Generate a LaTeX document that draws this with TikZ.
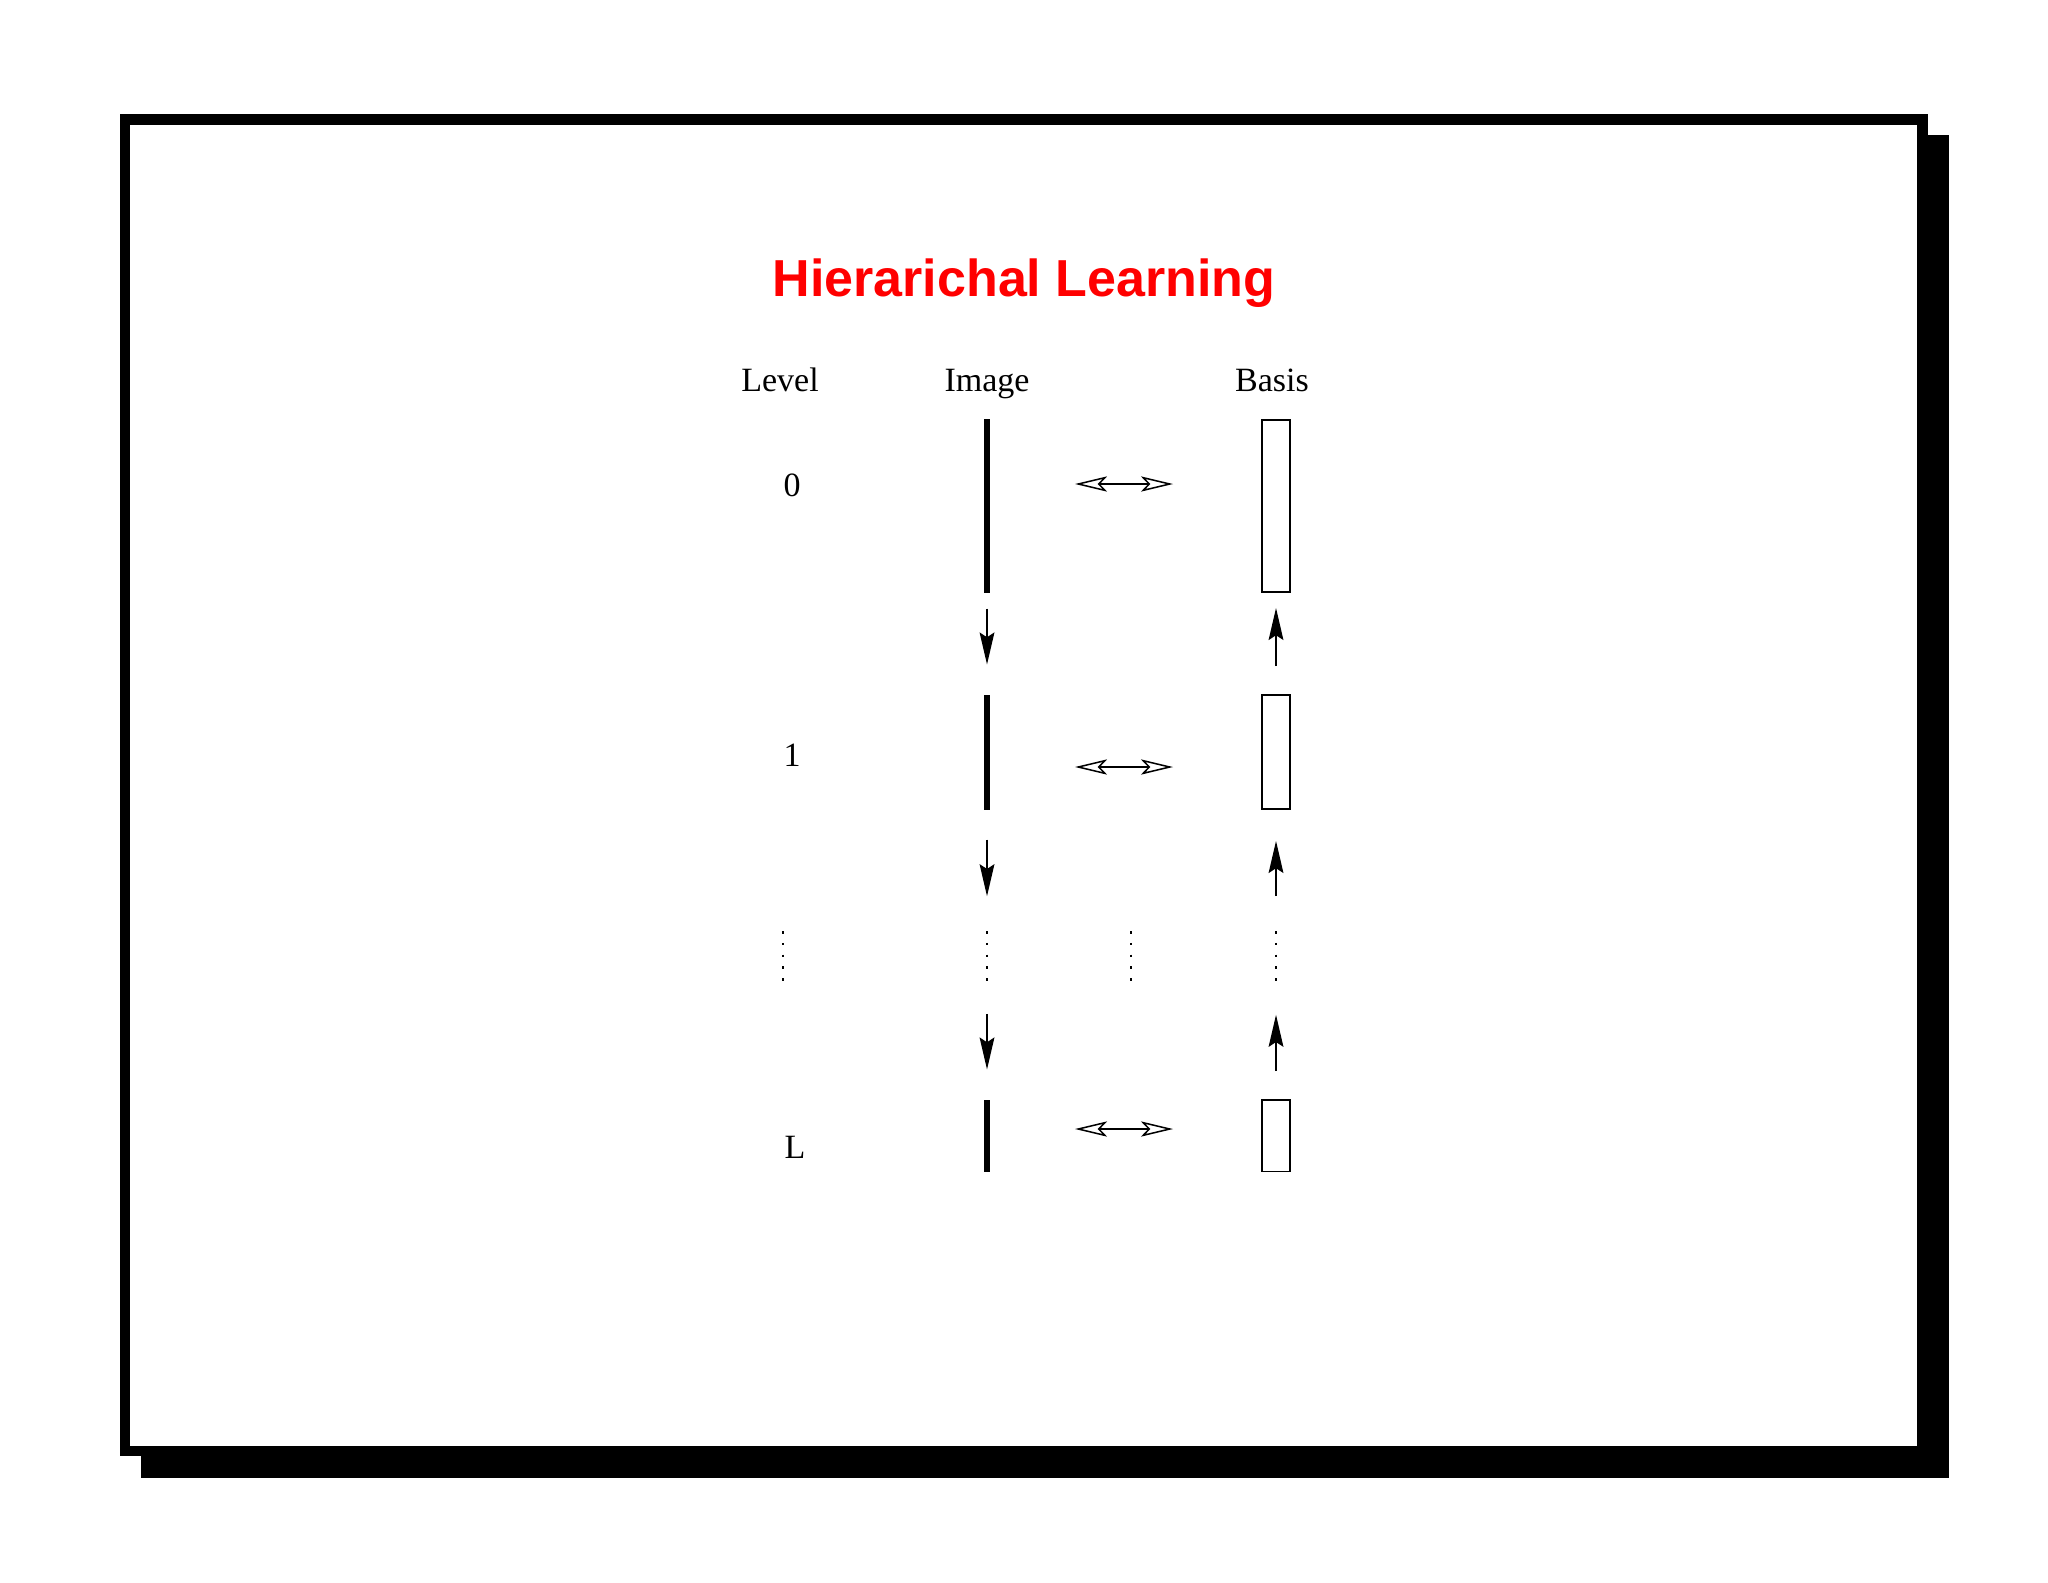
\documentclass[tikz,border=0pt]{standalone}
\usepackage{fontspec}
\setmainfont{Liberation Serif}
\newfontfamily\titlefont{Liberation Sans}
\usetikzlibrary{arrows.meta,positioning}
\tikzset{
  image bar/.style={
    fill=black,
    inner sep=0pt,
    minimum width=0.75mm
  },
  basis box/.style={
    draw,
    line width=0.19mm,
    inner sep=0pt,
    minimum width=3.45mm
  },
  dot column/.style={
    inner sep=0pt,
    minimum width=0pt,
    minimum height=6.19mm
  },
  dot line/.style={
    line width=0.31mm,
    dash pattern=on 0.31mm off 1.159mm
  },
  flow/.style={
    -{Stealth[length=4mm,width=1.85mm,inset=0.6mm]},
    line width=0.17mm
  },
  pair/.style={
    {Stealth[open,length=4mm,width=1.9mm,inset=0.9mm]}-{Stealth[open,length=4mm,width=1.9mm,inset=0.9mm]},
    line width=0.19mm
  },
  label text/.style={
    font=\fontsize{12.1}{14}\selectfont,
    inner sep=0pt
  }
}

\begin{document}
\begin{tikzpicture}[x=0.125mm, y=-0.125mm]
   \useasboundingbox (0,0) rectangle (2048,1582);
   \fill (141,135) rectangle (1949,1478);
   \draw[line width=1.31mm, fill=white] (125.25,119.5) rectangle (1922.5,1451);

   \node[font=\titlefont\bfseries\fontsize{18.5}{22}\selectfont, text=red, anchor=base] (title) at (1024,296) {Hierarichal Learning};

   \node[label text, anchor=base] (hlev) at (780,391) {Level};
   \node[label text, anchor=base] (himg) at (987,391) {Image};
   \node[label text, anchor=base] (hbas) at (1272,391) {Basis};

   \node[label text, anchor=base west] (lev0) at (783,496) {0};
   \node[label text, anchor=base west] (lev1) at (783,766) {1};
   \node[label text, anchor=base west] (levL) at (784,1158) {L};

   \node[image bar, minimum height=21.75mm] (img0) at (987,506) {};
   \node[image bar, minimum height=14.375mm] (img1) at (987,752.5) {};
   \node[image bar, minimum height=9mm] (imgL) at (987,1136) {};

   \node[basis box, minimum height=21.56mm] (bas0) at (1276,506) {};
   \node[basis box, minimum height=14.31mm] (bas1) at (1276,752) {};
   \node[basis box, minimum height=8.94mm] (basL) at (1276,1135.5) {};

   \foreach \col/\x in {dlev/783, dimg/987, dmid/1131, dbas/1276}
      \node[dot column] (\col) at (\x,956.5) {};
   \foreach \col in {dlev, dimg, dmid, dbas}
      \draw[dot line] (\col.north) -- (\col.south);

\draw[flow, shorten <=1.875mm, shorten >=3.75mm] (img0) -- (img1);
\draw[flow, shorten <=3.625mm, shorten >=4.375mm] (img1) -- (dimg);
\draw[flow, shorten <=4mm, shorten >=3.75mm] (dimg) -- (imgL);
\draw[flow, shorten <=3.5mm, shorten >=1.875mm] (bas1) -- (bas0);
\draw[flow, shorten <=4.375mm, shorten >=3.875mm] (dbas) -- (bas1);
\draw[flow, shorten <=3.5mm, shorten >=4.125mm] (basL) -- (dbas);

   \foreach \r/\y in {0/484, 1/767, L/1129} {
      \coordinate (pl\r) at (1075,\y);
      \coordinate (pr\r) at (1173,\y);
      \draw[pair] (pl\r) -- (pr\r);
   }
\end{tikzpicture}
\end{document}
